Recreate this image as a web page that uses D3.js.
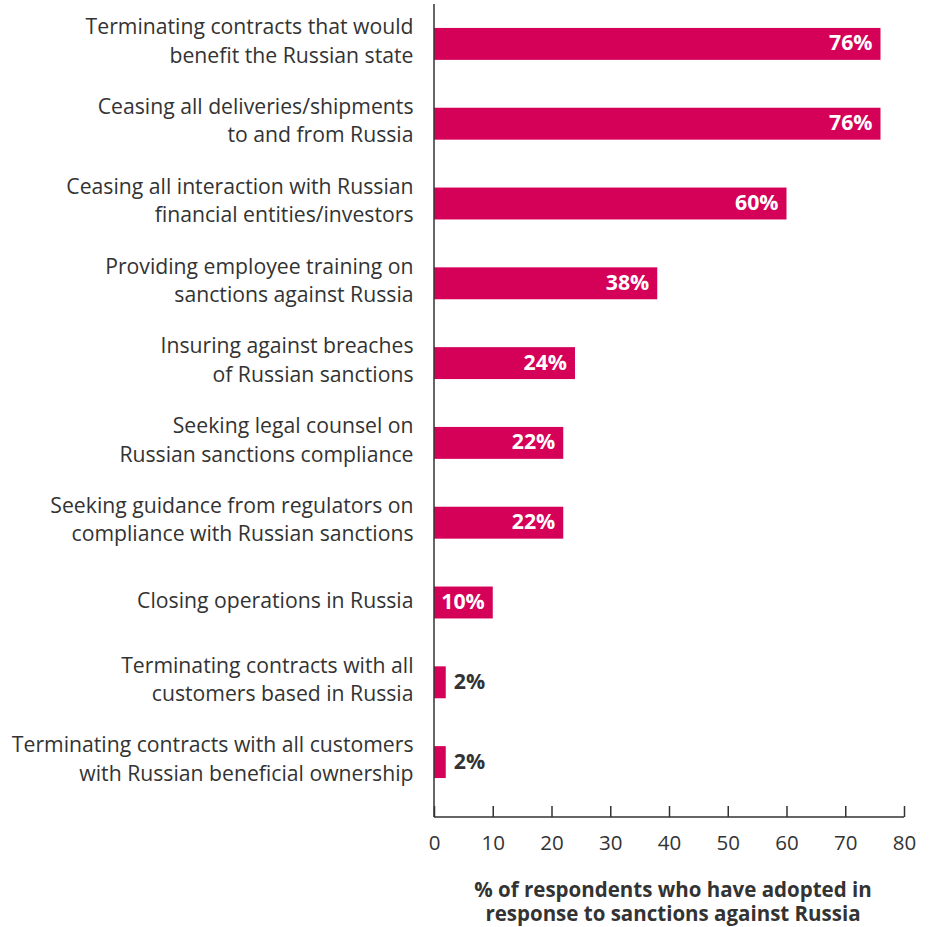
<!DOCTYPE html>
<html>
<head>
<meta charset="utf-8">
<script src="https://cdn.jsdelivr.net/npm/d3@7"></script>
<style>
  html, body { margin: 0; padding: 0; background: #fff; }
  svg { display: block; font-family: "Open Sans", sans-serif; }
</style>
</head>
<body>
<svg id="chart" width="929" height="927"></svg>
<script>
// Measures adopted in response to sanctions against Russia
const categories = [
  ["Terminating contracts that would", "benefit the Russian state"],
  ["Ceasing all deliveries/shipments", "to and from Russia"],
  ["Ceasing all interaction with Russian", "financial entities/investors"],
  ["Providing employee training on", "sanctions against Russia"],
  ["Insuring against breaches", "of Russian sanctions"],
  ["Seeking legal counsel on", "Russian sanctions compliance"],
  ["Seeking guidance from regulators on", "compliance with Russian sanctions"],
  ["Closing operations in Russia"],
  ["Terminating contracts with all", "customers based in Russia"],
  ["Terminating contracts with all customers", "with Russian beneficial ownership"]
];
const values = [76, 76, 60, 38, 24, 22, 22, 10, 2, 2];
const xTicks = [0, 10, 20, 30, 40, 50, 60, 70, 80];
const axisTitle = ["% of respondents who have adopted in", "response to sanctions against Russia"];

const svg = d3.select("#chart");
const plotLeft = 434, plotRight = 904, plotTop = 4, plotBottom = 817;
const barColor = "#d50057";
const textColor = "#333333";

const x = d3.scaleLinear().domain([0, 80]).range([plotLeft, plotRight]);
const y = d3.scaleBand()
  .domain(d3.range(categories.length))
  .range([plotTop, plotTop + 798])
  .paddingInner(0.6)
  .paddingOuter(0.3);

// bars
svg.append("g").selectAll("rect")
  .data(values)
  .join("rect")
  .attr("x", x(0))
  .attr("y", (d, i) => y(i))
  .attr("width", d => x(d) - x(0))
  .attr("height", y.bandwidth())
  .attr("fill", barColor);

// value labels: inside the bar when it is wide enough, otherwise just outside
svg.append("g").selectAll("text")
  .data(values)
  .join("text")
  .attr("x", d => d >= 5 ? x(d) - 8 : x(d) + 8)
  .attr("y", (d, i) => y(i) + y.bandwidth() / 2 + 6.5)
  .attr("text-anchor", d => d >= 5 ? "end" : "start")
  .attr("font-size", 21.3)
  .attr("font-weight", 700)
  .attr("fill", d => d >= 5 ? "#ffffff" : textColor)
  .text(d => d + "%");

// category labels
const labels = svg.append("g").selectAll("text")
  .data(categories)
  .join("text")
  .attr("text-anchor", "end")
  .attr("font-size", 21.2)
  .attr("fill", textColor);
labels.each(function(lines, i) {
  const cy = y(i) + y.bandwidth() / 2;
  const start = lines.length > 1 ? cy - 9.7 : cy + 5.5;
  d3.select(this).selectAll("tspan")
    .data(lines)
    .join("tspan")
    .attr("x", 413.5)
    .attr("y", (l, j) => start + j * 28.4)
    .text(l => l);
});

// x axis with ticks pointing up
const xAxis = svg.append("g")
  .attr("transform", `translate(0,${plotBottom})`)
  .call(d3.axisBottom(x).tickValues(xTicks).tickSize(-11));
xAxis.select(".domain").attr("stroke", textColor).attr("stroke-width", 1.5)
  .attr("d", `M${plotLeft},0H${plotRight}`);
xAxis.selectAll(".tick line").attr("stroke", textColor).attr("stroke-width", 1.5);
xAxis.selectAll(".tick text")
  .attr("font-family", "Open Sans, sans-serif")
  .attr("font-size", 20.5)
  .attr("fill", textColor)
  .attr("dy", null)
  .attr("y", 33);

// vertical axis line
svg.append("line")
  .attr("x1", plotLeft).attr("x2", plotLeft)
  .attr("y1", plotTop).attr("y2", plotBottom)
  .attr("stroke", textColor).attr("stroke-width", 1.5);

// axis title
svg.append("text")
  .attr("text-anchor", "middle")
  .attr("font-size", 20.5)
  .attr("font-weight", 700)
  .attr("fill", textColor)
  .selectAll("tspan")
  .data(axisTitle)
  .join("tspan")
  .attr("x", 673)
  .attr("y", (d, i) => 896.5 + i * 24)
  .text(d => d);
</script>
</body>
</html>
